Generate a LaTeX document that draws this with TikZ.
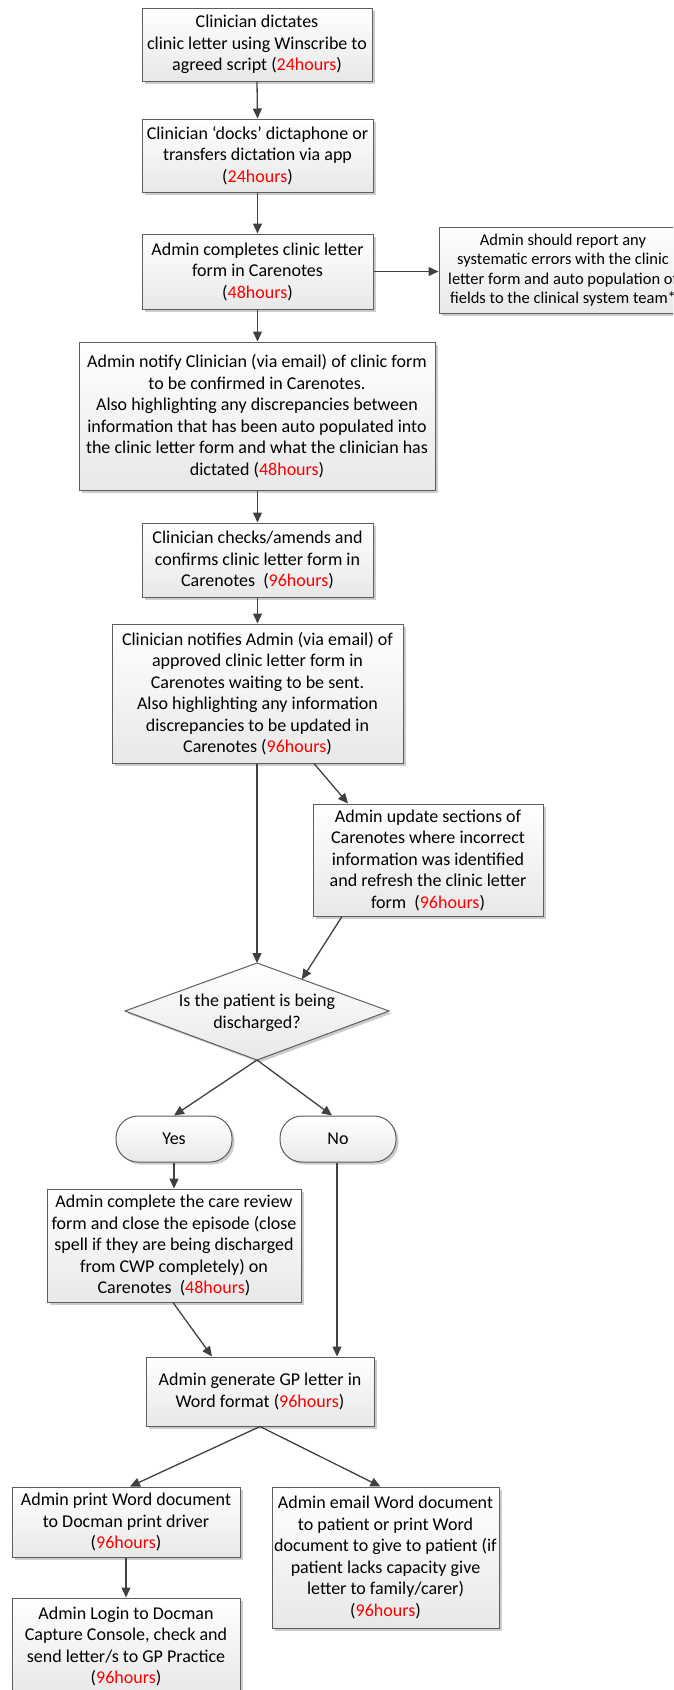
\documentclass[tikz,border=0pt]{standalone}
\usepackage{fontspec}
\setmainfont{Carlito}
\usetikzlibrary{arrows.meta,shadows,calc}
\definecolor{bordc}{HTML}{5E5E5E}
\definecolor{arrc}{HTML}{404040}
\definecolor{fillb}{HTML}{E8E8E8}
\definecolor{shc}{HTML}{CCCCCC}
\definecolor{hrsred}{HTML}{FF0000}
\newcommand{\hrsr}[1]{\textcolor{hrsred}{#1}}
\begin{document}
\begin{tikzpicture}[x=1pt,y=-1pt,
  shadowed/.style={drop shadow={fill=shc, opacity=1, shadow xshift=2.5pt, shadow yshift=-2.5pt}},
  boxfill/.style={draw=bordc, line width=1pt, top color=white, bottom color=fillb, shadowed},
  stepbox/.style={boxfill, align=center, inner sep=0pt, text=black, font=\fontsize{18}{21.5}\selectfont},
  sidebox/.style={stepbox, font=\fontsize{16.5}{19.6}\selectfont},
  pill/.style={stepbox, rounded corners=22pt},
  arr/.style={draw=arrc, line width=1.3pt, -{Triangle[length=10pt,width=9pt]}},
]
\useasboundingbox (0,0) rectangle (673,1690);
\clip (0,0) rectangle (673,1690);

\node[stepbox, minimum width=230, minimum height=73] (b1) at (257,44.5)
  {Clinician dictates\\clinic letter using Winscribe to\\agreed script (\hrsr{24hours})};
\node[stepbox, minimum width=231, minimum height=73] (b2) at (257.5,155.5)
  {Clinician ‘docks’ dictaphone or\\transfers dictation via app\\(\hrsr{24hours})};
\node[stepbox, minimum width=231, minimum height=75] (b3) at (257.5,271.5)
  {Admin completes clinic letter\\form in Carenotes\\(\hrsr{48hours})};
\node[sidebox, minimum width=248, minimum height=86] (side) at (563,270)
  {Admin should report any\\systematic errors with the clinic\\letter form and auto population of\\fields to the clinical system team*};
\node[stepbox, minimum width=356, minimum height=148] (b4) at (257,416)
  {Admin notify Clinician (via email) of clinic form\\to be confirmed in Carenotes.\\Also highlighting any discrepancies between\\information that has been auto populated into\\the clinic letter form and what the clinician has\\dictated (\hrsr{48hours})};
\node[stepbox, minimum width=231, minimum height=74] (b5) at (257.5,560)
  {Clinician checks/amends and\\confirms clinic letter form in\\Carenotes\ \ (\hrsr{96hours})};
\node[stepbox, minimum width=291, minimum height=139] (b6) at (257.5,693.5)
  {Clinician notifies Admin (via email) of\\approved clinic letter form in\\Carenotes waiting to be sent.\\Also highlighting any information\\discrepancies to be updated in\\Carenotes (\hrsr{96hours})};
\node[stepbox, minimum width=230, minimum height=112] (b7) at (428,860)
  {Admin update sections of\\Carenotes where incorrect\\information was identified\\and refresh the clinic letter\\form\ \ (\hrsr{96hours})};

% decision diamond
\coordinate (dN) at (257,963);
\coordinate (dE) at (389,1011);
\coordinate (dS) at (257,1060);
\coordinate (dW) at (125,1011);
\path[boxfill] (dN) -- (dE) -- (dS) -- (dW) -- cycle;
\node[align=center, inner sep=0pt, font=\fontsize{18}{21.5}\selectfont] (dq) at (257,1013)
  {Is the patient is being\\discharged?};

\node[pill, minimum width=116, minimum height=46] (yes) at (174,1139) {Yes};
\node[pill, minimum width=116, minimum height=46] (no) at (338,1139) {No};

\node[stepbox, minimum width=254, minimum height=113] (b8) at (174,1245.5)
  {Admin complete the care review\\form and close the episode (close\\spell if they are being discharged\\from CWP completely) on\\Carenotes\ \ (\hrsr{48hours})};
\node[stepbox, minimum width=228, minimum height=69] (b9) at (260,1391.5)
  {Admin generate GP letter in\\Word format (\hrsr{96hours})};
\node[stepbox, minimum width=228, minimum height=70] (b10) at (126,1522)
  {Admin print Word document\\to Docman print driver\\(\hrsr{96hours})};
\node[stepbox, minimum width=227, minimum height=141] (b11) at (385.5,1557.5)
  {Admin email Word document\\to patient or print Word\\document to give to patient (if\\patient lacks capacity give\\letter to family/carer)\\(\hrsr{96hours})};
\node[stepbox, minimum width=228, minimum height=97] (b12) at (126,1646.5)
  {Admin Login to Docman\\Capture Console, check and\\send letter/s to GP Practice\\(\hrsr{96hours})};

% connectors
\draw[arr] (b1.south) -- (b2.north);
\draw[arr] (b2.south) -- (b3.north -| b2.south);
\draw[arr] (b3.east) -- (b3.east -| side.west);
\draw[arr] (b3.south) -- (b3.south |- b4.north);
\draw[arr] (b4.south -| b5.south) -- (b5.north);
\draw[arr] (b5.south) -- (b6.north);
\draw[arr] (b6.south -| dN) -- (dN);
\draw[arr] ([xshift=56.5pt]b6.south) -- ([xshift=-80pt]b7.north);
\draw[arr] ([xshift=-86pt]b7.south) -- ($(dN)!0.34!(dE)$);
\draw[arr] (dS) -- (yes.north);
\draw[arr] (dS) -- ([xshift=-6pt]no.north);
\draw[arr] (yes.south) -- (b8.north);
\draw[arr] ([xshift=-1pt]no.south) -- ([xshift=-1pt]no.south |- b9.north);
\draw[arr] ([xshift=-1pt]b8.south) -- ([xshift=-48pt]b9.north);
\draw[arr] (b9.south) -- ([xshift=4pt]b10.north);
\draw[arr] (b9.south) -- ([xshift=-5pt]b11.north);
\draw[arr] (b10.south) -- (b12.north);
\end{tikzpicture}
\end{document}
